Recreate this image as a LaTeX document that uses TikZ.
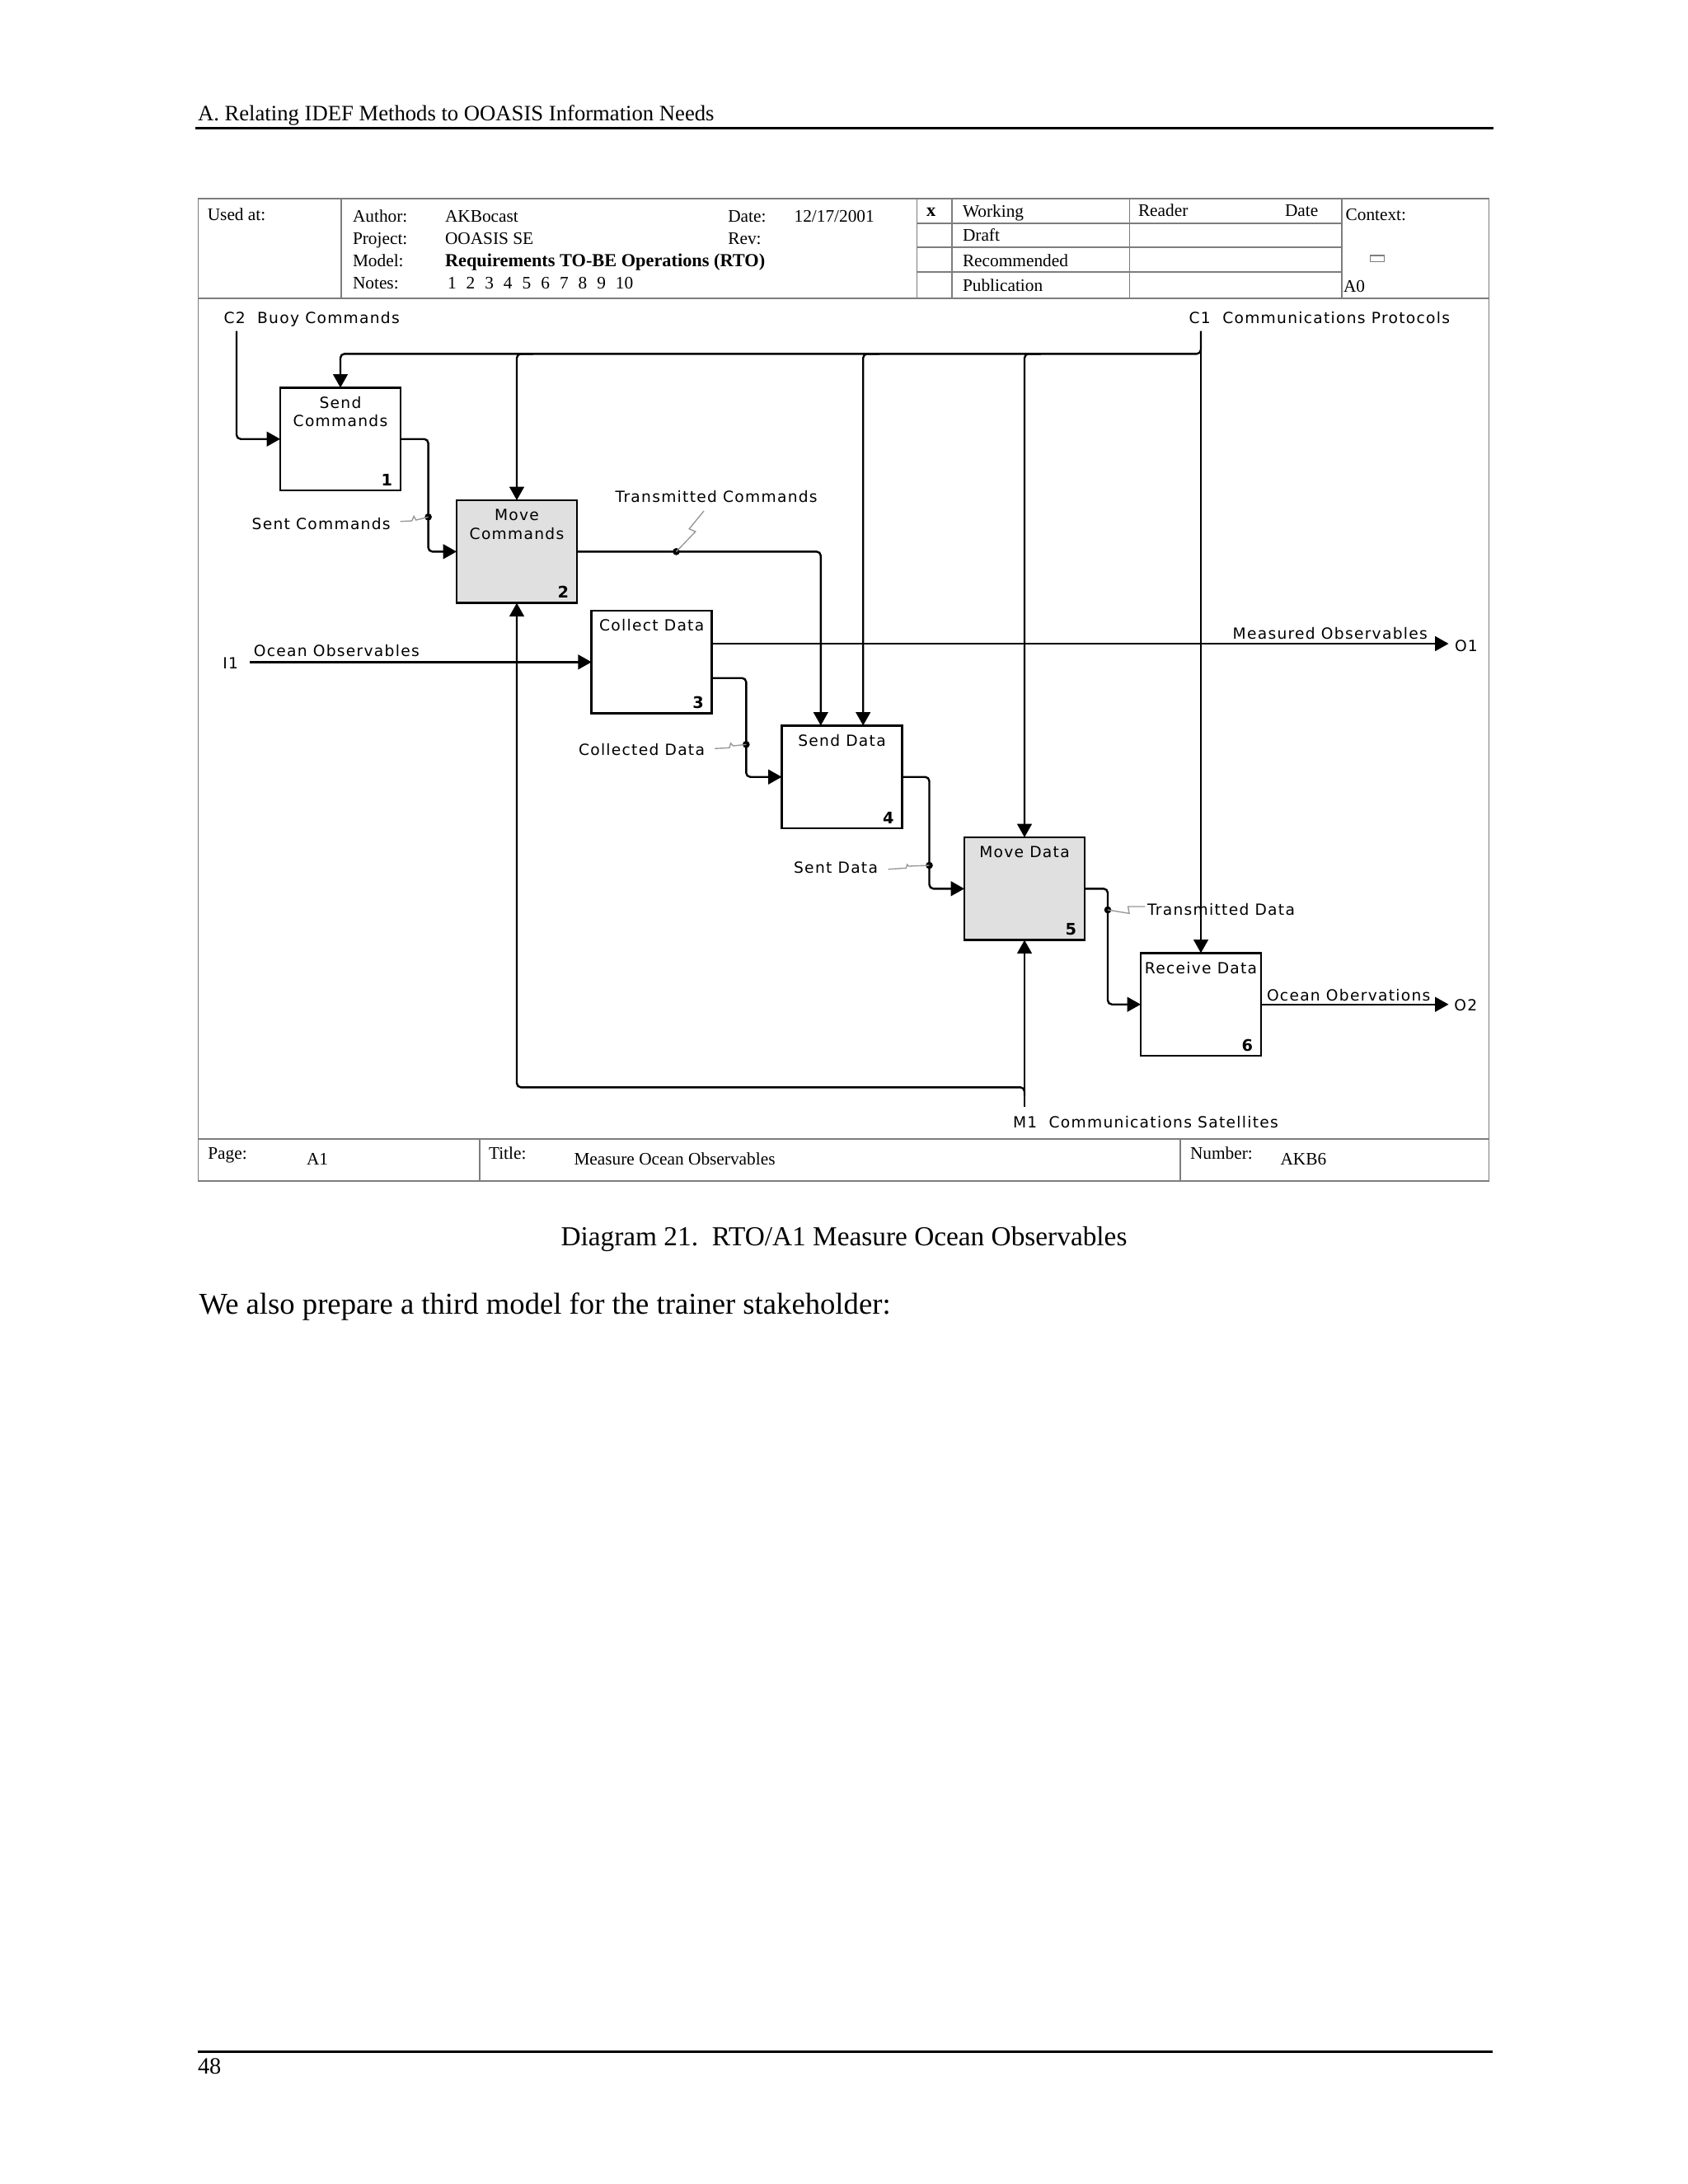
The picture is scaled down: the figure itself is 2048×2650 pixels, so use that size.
\documentclass[tikz,border=0pt]{standalone}
\usepackage{fontspec}
\setmainfont{Liberation Serif}
\newfontfamily\idef[LetterSpace=6.8]{DejaVu Sans}
\newfontfamily\idefnum{DejaVu Sans}
\usetikzlibrary{arrows.meta,calc}
\definecolor{framegray}{RGB}{125,125,125}
\definecolor{boxshade}{RGB}{224,224,224}
\definecolor{squiggray}{RGB}{150,150,150}
\begin{document}
\begin{tikzpicture}[x=0.3pt,y=-0.3pt,
  every node/.style={inner sep=0pt, outer sep=0pt},
  actbox/.style={draw, line width=0.8pt, minimum width=43.8pt, minimum height=37.4pt, fill=white},
  actshade/.style={actbox, fill=boxshade},
  flow/.style={line width=0.72pt, rounded corners=1.5pt, -{Triangle[length=4.9pt,width=5.3pt]}},
  squig/.style={draw=squiggray, line width=0.4pt},
  frameline/.style={draw=framegray, line width=0.5pt},
  idl/.style={font=\idef\fontsize{5.6}{6.5}\selectfont},
  boxtxt/.style={idl, anchor=base},
  boxnum/.style={font=\idefnum\bfseries\fontsize{5.8}{6.5}\selectfont, anchor=base east},
  frm/.style={font=\fontsize{6.4}{7.5}\selectfont, anchor=base west},
  frmb/.style={font=\bfseries\fontsize{6.7}{7.5}\selectfont, anchor=base west},
  dotr/.style={fill=black}
]
\useasboundingbox (0,0) rectangle (2048,2650);
\fill[white] (0,0) rectangle (2048,2650);

% page header and footer
\node[font=\fontsize{8}{9.6}\selectfont, anchor=base west] (pghead) at (240,146.7) {A. Relating IDEF Methods to OOASIS Information Needs};
\draw[line width=0.9pt] (237,155.7) -- (1812,155.7);
\draw[line width=0.9pt] (240,2489.3) -- (1811,2489.3);
\node[font=\fontsize{8.5}{10}\selectfont, anchor=base west] (pgnum) at (240,2516) {48};
\node[font=\fontsize{10}{12}\selectfont, anchor=base] (caption) at (1024,1511.7) {Diagram 21.\ \ RTO/A1 Measure Ocean Observables};
\node[font=\fontsize{11}{13}\selectfont, anchor=base west] (bodytext) at (241.6,1594) {We also prepare a third model for the trainer stakeholder:};

% IDEF frame
\draw[frameline] (240.5,240.7) rectangle (1806.5,1433.3);
\draw[frameline] (240.5,361.7) -- (1806.5,361.7);
\draw[frameline] (240.5,1382.3) -- (1806.5,1382.3);
\draw[frameline] (414,240.7) -- (414,361.7);
\draw[frameline] (1112.5,240.7) -- (1112.5,361.7);
\draw[frameline] (1155,240.7) -- (1155,361.7);
\draw[frameline] (1370.5,240.7) -- (1370.5,361.7);
\draw[frameline] (1628,240.7) -- (1628,361.7);
\foreach \yy in {270.7,300,330} \draw[frameline] (1112.5,\yy) -- (1628,\yy);
\draw[frameline] (582,1382.3) -- (582,1433.3);
\draw[frameline] (1432,1382.3) -- (1432,1433.3);
\draw[frameline, line width=0.4pt] (1662.4,310) rectangle (1679.4,317.3);

% frame texts
\node[frm] (usedat) at (251.8,267.5) {Used at:};
\node[frm] (author) at (428,269.3) {Author:};
\node[frm] (project) at (428,296) {Project:};
\node[frm] (model) at (428,323.3) {Model:};
\node[frm] (notes) at (428,350.7) {Notes:};
\node[frm] (authorv) at (540,269.3) {AKBocast};
\node[frm] (projectv) at (540,296) {OOASIS SE};
\node[frmb] (modelv) at (540,323.3) {Requirements TO-BE Operations (RTO)};
\node[frm] (notesv) at (543,350.7) {1\hspace{3.6pt}2\hspace{3.6pt}3\hspace{3.6pt}4\hspace{3.6pt}5\hspace{3.6pt}6\hspace{3.6pt}7\hspace{3.6pt}8\hspace{3.6pt}9\hspace{3.6pt}10};
\node[frm] (datel) at (883.3,269.3) {Date:};
\node[frm] (datev) at (963.6,269.3) {12/17/2001};
\node[frm] (revl) at (883.3,296) {Rev:};
\node[frmb] (xmark) at (1124,262.3) {x};
\node[frm] (working) at (1168,263.3) {Working};
\node[frm] (draft) at (1168,292.7) {Draft};
\node[frm] (recommended) at (1168,323.3) {Recommended};
\node[frm] (publication) at (1168,353.3) {Publication};
\node[frm] (reader) at (1381,262.3) {Reader};
\node[frm] (rdate) at (1559,262.3) {Date};
\node[frm] (context) at (1632.6,267.3) {Context:};
\node[frm] (azero) at (1630,354) {A0};
\node[frm] (pagel) at (252.3,1406) {Page:};
\node[frm] (pagev) at (372,1413.3) {A1};
\node[frm] (titlel) at (593,1406) {Title:};
\node[frm] (titlev) at (696.5,1413.3) {Measure Ocean Observables};
\node[frm] (numberl) at (1444,1406) {Number:};
\node[frm] (numberv) at (1553.5,1413.3) {AKB6};

% activity boxes
\node[actbox] (B1) at (413,532.7) {};
\node[actshade] (B2) at (627,669.3) {};
\node[actbox] (B3) at (790.7,803.3) {};
\node[actbox] (B4) at (1021.5,942.7) {};
\node[actshade] (B5) at (1243,1078.3) {};
\node[actbox] (B6) at (1457,1218.7) {};

\node[boxtxt] (t1a) at ($(B1.north)+(0,25)$) {Send};
\node[boxtxt] (t1b) at ($(B1.north)+(0,47.3)$) {Commands};
\node[boxtxt] (t2a) at ($(B2.north)+(0,25)$) {Move};
\node[boxtxt] (t2b) at ($(B2.north)+(0,47.3)$) {Commands};
\node[boxtxt] (t3) at ($(B3.north)+(0,25)$) {Collect Data};
\node[boxtxt] (t4) at ($(B4.north)+(0,25)$) {Send Data};
\node[boxtxt] (t5) at ($(B5.north)+(0,25)$) {Move Data};
\node[boxtxt] (t6) at ($(B6.north)+(0,25)$) {Receive Data};
\node[boxnum] (n1) at ($(B1.south east)+(-10,-6)$) {1};
\node[boxnum] (n2) at ($(B2.south east)+(-10,-6)$) {2};
\node[boxnum] (n3) at ($(B3.south east)+(-10,-6)$) {3};
\node[boxnum] (n4) at ($(B4.south east)+(-10,-6)$) {4};
\node[boxnum] (n5) at ($(B5.south east)+(-10,-6)$) {5};
\node[boxnum] (n6) at ($(B6.south east)+(-10,-6)$) {6};

% boundary coordinates
\coordinate (C2s) at (287,401.7);
\coordinate (C1s) at (1457,401.7);
\coordinate (bus) at (0,429.3);
\coordinate (I1s) at (302.5,803.3);
\coordinate (O1e) at (1757.5,781);
\coordinate (O2e) at (1757.5,1218.7);
\coordinate (M1s) at (1243,1343.3);
\coordinate (mbus) at (0,1319.3);
\coordinate (dSC) at (519.6,627.3);
\coordinate (dTC) at (820.5,669.3);
\coordinate (dCD) at (905.3,903.3);
\coordinate (dSD) at (1127.5,1050);
\coordinate (dTD) at (1344,1104);

% arrow labels
\node[idl, anchor=base west] (lC2) at (271.6,392.7) {C2\ \ Buoy Commands};
\node[idl, anchor=base west] (lC1) at (1442.7,392.7) {C1\ \ Communications Protocols};
\node[idl, anchor=base east] (lSC) at (473.7,642.7) {Sent Commands};
\node[idl, anchor=base west] (lTC) at (746.6,609.3) {Transmitted Commands};
\node[idl, anchor=base west] (lOO) at (307.9,796.7) {Ocean Observables};
\node[idl, anchor=base west] (lI1) at (270.4,811.7) {I1};
\node[idl, anchor=base west] (lMO) at (1495.7,775) {Measured Observables};
\node[idl, anchor=base west] (lO1) at (1765,790) {O1};
\node[idl, anchor=base east] (lCD) at (855,916.7) {Collected Data};
\node[idl, anchor=base east] (lSD) at (1065,1059) {Sent Data};
\node[idl, anchor=base west] (lTD) at (1392,1110) {Transmitted Data};
\node[idl, anchor=base west] (lOB) at (1537,1214) {Ocean Obervations};
\node[idl, anchor=base west] (lO2) at (1764.4,1226.7) {O2};
\node[idl, anchor=base west] (lM1) at (1229,1368.3) {M1\ \ Communications Satellites};

% controls
\draw[flow] (C2s) |- (B1.west);
\draw[flow] (C1s) -- (B6.north);
\draw[flow] (C1s) |- (B1.north |- bus) -- (B1.north);
\draw[flow] ($(B2.north |- bus)+(20,0)$) -| (B2.north);
\draw[flow] ($(B4.north |- bus)+(45.7,0)$) -| ($(B4.north)+(25.7,0)$);
\draw[flow] ($(B5.north |- bus)+(20,0)$) -| (B5.north);

% inputs / outputs
\draw[flow] (I1s) -- (B3.west);
\draw[flow] (B1.east) -| (dSC) |- (B2.west);
\draw[flow] (B2.east) -- (dTC) -| ($(B4.north)+(-25.7,0)$);
\draw[flow] ($(B3.east)+(0,-22.3)$) -- (O1e);
\draw[flow] ($(B3.east)+(0,19.4)$) -| (dCD) |- (B4.west);
\draw[flow] (B4.east) -| (dSD) |- (B5.west);
\draw[flow] (B5.east) -| (dTD) |- (B6.west);
\draw[flow] (B6.east) -- (O2e);

% mechanisms
\draw[flow] (M1s) -- (B5.south);
\draw[flow] ($(M1s)+(0,-14)$) |- (B2.south |- mbus) -- (B2.south);

% junction dots
\foreach \d in {dSC,dTC,dCD,dSD,dTD} \fill[dotr] (\d) circle[radius=1.3pt];

% label leaders
\draw[squig] ($(lSC.base east)+(12,-10)$) -- ++(14,-0.7) -- ++(2.5,-5.7) -- ++(2.5,4.7) -- (dSC);
\draw[squig] ($(lTC.base west)+(107.4,10.7)$) -- ++(-17.8,21.7) -- ++(7.6,3.3) -- (dTC);
\draw[squig] ($(lCD.base east)+(12,-8.4)$) -- ++(18,-1) -- ++(1.5,-5.6) -- ++(3,3.3) -- (dCD);
\draw[squig] ($(lSD.base east)+(12.7,-4.3)$) -- ++(21.6,-1.4) -- ++(1.4,-4.3) -- ++(1.6,2) -- (dSD);
\draw[squig] (dTD) -- ++(26,4.3) -- ++(-1.4,-8.3) -- ($(lTD.base west)+(-2.7,-10)$);
\end{tikzpicture}
\end{document}
